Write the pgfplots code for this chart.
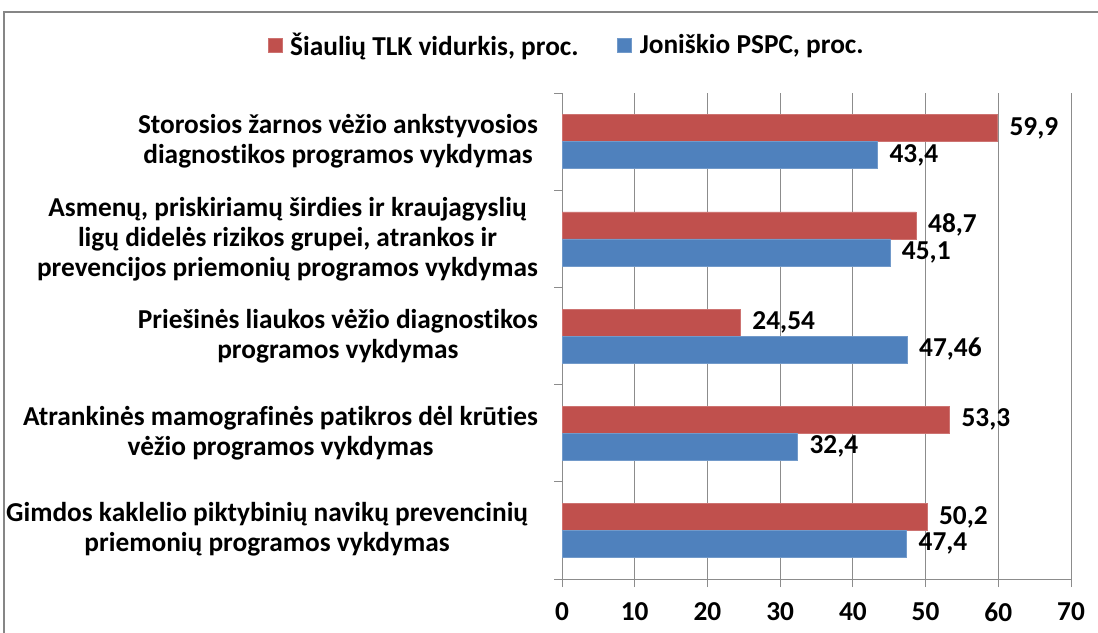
\documentclass[border=0pt]{standalone}
\usepackage{pgfplots}
\pgfplotsset{compat=1.18}
\usepackage{fontspec}
\setmainfont{Carlito}[Ligatures={NoCommon}]
\definecolor{tlk}{HTML}{C0504D}
\definecolor{psp}{HTML}{4F81BD}
\definecolor{gridc}{HTML}{8C8C8C}
\definecolor{framec}{HTML}{868686}
\begin{document}
\begin{tikzpicture}[font=\fontsize{20.5}{22.5}\selectfont\bfseries]
\useasboundingbox (0,0) rectangle (823.5pt,474pt);
\draw[framec, line width=1.5pt] (3pt,-10pt) -- (3pt,465pt) -- (840pt,465pt);
\begin{axis}[
  at={(421.5pt,39.75pt)}, anchor=south west,
  scale only axis, width=381.75pt, height=364.5pt,
  xbar, bar width=20.25pt,
  xmin=0, xmax=70, ymin=-0.5, ymax=4.5,
  xtick={0,10,...,70},
  ytick={0,1,2,3,4},
  yticklabels={
    {\begin{tabular}{@{}c@{\hspace{7.5pt}}}Gimdos kaklelio piktybinių navikų prevencinių\\priemonių programos vykdymas\end{tabular}},
    {Atrankinės mamografinės patikros dėl krūties\\vėžio programos vykdymas},
    {Priešinės liaukos vėžio diagnostikos\\programos vykdymas},
    {Asmenų, priskiriamų širdies ir kraujagyslių\\ligų didelės rizikos grupei, atrankos ir\\prevencijos priemonių programos vykdymas},
    {Storosios žarnos vėžio ankstyvosios\\diagnostikos programos vykdymas}},
  minor ytick={-0.5,0.5,...,4.5},
  axis x line*=bottom, axis y line*=left,
  axis line style={gridc, line width=0.75pt, -},
  xmajorgrids, grid style={gridc, line width=0.75pt},
  tick align=outside,
  major tick length=6pt, minor tick length=6pt,
  major x tick style={gridc, line width=0.75pt},
  major y tick style={draw=none},
  minor y tick style={gridc, line width=0.75pt},
  yticklabel style={align=center, anchor=east, xshift=-8.5pt},
  /pgf/number format/assume math mode=true,
  xticklabel style={yshift=-8.5pt},
  nodes near coords, point meta=explicit symbolic,
  nodes near coords style={anchor=west, xshift=5.5pt, black},
  legend style={at={(rel axis cs:0.0098,1.0988)}, anchor=center, draw=none, fill=none,
    legend columns=2,
    /tikz/every even column/.append style={column sep=27pt},
    /tikz/every odd column/.append style={column sep=4pt},
    font=\fontsize{20.5}{22.5}\selectfont\bfseries},
  legend image code/.code={\fill[#1] (0pt,-5.25pt) rectangle (10.5pt,5.25pt);},
]
\addplot[fill=tlk, draw=tlk!80!white, bar shift=10.125pt] coordinates {
  (50.2,0) [50,2]
  (53.3,1) [53,3]
  (24.54,2) [24,54]
  (48.7,3) [48,7]
  (59.9,4) [59,9]
};
\addlegendentry{Šiaulių TLK vidurkis, proc.}
\addplot[fill=psp, draw=psp!80!white, bar shift=-10.125pt] coordinates {
  (47.4,0) [47,4]
  (32.4,1) [32,4]
  (47.46,2) [47,46]
  (45.1,3) [45,1]
  (43.4,4) [43,4]
};
\addlegendentry{Joniškio PSPC, proc.}
\end{axis}
\end{tikzpicture}
\end{document}
